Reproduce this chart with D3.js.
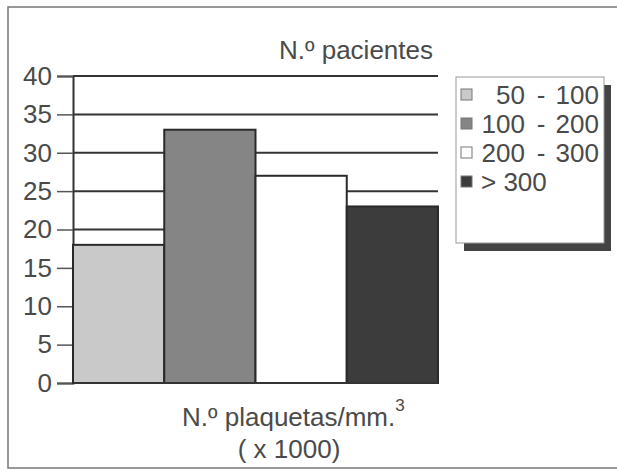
<!DOCTYPE html>
<html>
<head>
<meta charset="utf-8">
<script src="https://cdn.jsdelivr.net/npm/d3@7"></script>
<style>
  body { margin: 0; background: #fff; }
  text { font-family: "Liberation Sans", Arial, sans-serif; fill: #4a4a4a; }
</style>
</head>
<body>
<div id="chart"></div>
<script>
// Daten
const categories = ["50 - 100", "100 - 200", "200 - 300", "> 300"];
const values = [18, 33, 27, 23];
const yTicks = [0, 5, 10, 15, 20, 25, 30, 35, 40];
const colors = ["#c9c9c9", "#858585", "#ffffff", "#3c3c3c"];

const width = 617, height = 470;
const margin = {top: 76, right: 179, bottom: 87, left: 73};
const fs = 26;

const svg = d3.select("#chart")
    .append("svg")
    .attr("width", width)
    .attr("height", height);

// Rahmen
svg.append("path")
    .attr("d", `M${width + 5},7 H8 V468 H${width + 5}`)
    .attr("fill", "none")
    .attr("stroke", "#777")
    .attr("stroke-width", 1.5);

const x = d3.scaleBand()
    .domain(categories)
    .range([margin.left, width - margin.right])
    .padding(0);

const y = d3.scaleLinear()
    .domain([0, 40])
    .range([height - margin.bottom, margin.top]);

// Gitterlinien und Achse
const yAxis = d3.axisLeft(y)
    .tickValues(yTicks)
    .tickSize(16)
    .tickPadding(5);

const gy = svg.append("g")
    .attr("transform", `translate(${margin.left},0)`)
    .call(yAxis);
gy.select(".domain").attr("stroke", "#333").attr("stroke-width", 2);
gy.selectAll(".tick line").attr("stroke", "#555").attr("stroke-width", 1.5);
gy.selectAll(".tick text")
    .attr("font-size", fs)
    .attr("fill", "#4a4a4a")
    .style("font-family", "'Liberation Sans', Arial, sans-serif");

svg.append("g")
    .selectAll("line")
    .data(yTicks.filter(d => d > 0))
    .join("line")
    .attr("x1", margin.left)
    .attr("x2", width - margin.right)
    .attr("y1", d => y(d))
    .attr("y2", d => y(d))
    .attr("stroke", "#333")
    .attr("stroke-width", 2);

// Balken
svg.append("g")
    .selectAll("rect")
    .data(values)
    .join("rect")
    .attr("x", (d, i) => x(categories[i]))
    .attr("y", d => y(d))
    .attr("width", x.bandwidth())
    .attr("height", d => y(0) - y(d))
    .attr("fill", (d, i) => colors[i])
    .attr("stroke", "#2a2a2a")
    .attr("stroke-width", 2);

// Grundlinie
svg.append("line")
    .attr("x1", margin.left)
    .attr("x2", width - margin.right)
    .attr("y1", y(0))
    .attr("y2", y(0))
    .attr("stroke", "#333")
    .attr("stroke-width", 2);

// Titel und Achsenbeschriftung
svg.append("text")
    .attr("x", 433)
    .attr("y", 59)
    .attr("text-anchor", "end")
    .attr("font-size", fs)
    .text("N.º pacientes");

const xl = svg.append("text")
    .attr("x", 182)
    .attr("y", 426)
    .attr("font-size", fs);
xl.append("tspan").text("N.º plaquetas/mm.");
xl.append("tspan").attr("dy", -15).attr("font-size", 17).text("3");

svg.append("text")
    .attr("x", 289)
    .attr("y", 458)
    .attr("text-anchor", "middle")
    .attr("font-size", fs)
    .text("( x 1000)");

// Legende
const lg = svg.append("g");
lg.append("rect")
    .attr("x", 464).attr("y", 85)
    .attr("width", 147).attr("height", 166)
    .attr("fill", "#444");
lg.append("rect")
    .attr("x", 456).attr("y", 77)
    .attr("width", 148).attr("height", 166)
    .attr("fill", "#fff")
    .attr("stroke", "#999")
    .attr("stroke-width", 1);

const rowY = d3.scalePoint()
    .domain(categories)
    .range([104, 191]);

const item = lg.selectAll("g.item")
    .data(categories)
    .join("g")
    .attr("class", "item")
    .attr("transform", d => `translate(0,${rowY(d)})`);

item.append("rect")
    .attr("x", 461)
    .attr("y", -15)
    .attr("width", 11)
    .attr("height", 11)
    .attr("fill", (d, i) => colors[i])
    .attr("stroke", "#777")
    .attr("stroke-width", 1);

item.each(function(d) {
    const g = d3.select(this);
    const parts = d.split(" - ");
    if (parts.length === 2) {
        g.append("text").attr("x", 525).attr("text-anchor", "end")
            .attr("font-size", fs).text(parts[0]);
        g.append("text").attr("x", 541).attr("text-anchor", "middle")
            .attr("font-size", fs).text("-");
        g.append("text").attr("x", 599).attr("text-anchor", "end")
            .attr("font-size", fs).text(parts[1]);
    } else {
        g.append("text").attr("x", 481)
            .attr("font-size", fs).text(d);
    }
});
</script>
</body>
</html>
